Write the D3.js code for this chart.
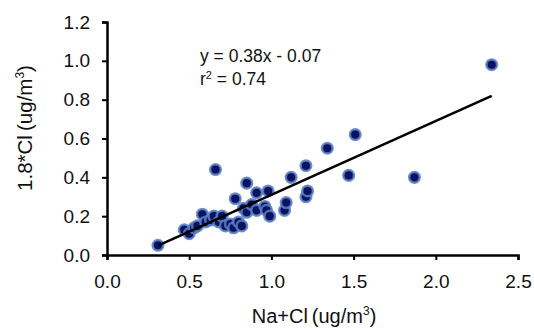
<!DOCTYPE html>
<html>
<head>
<meta charset="utf-8">
<script src="https://cdn.jsdelivr.net/npm/d3@7"></script>
<style>
  body { margin: 0; background: #fff; }
  svg { display: block; font-family: "Liberation Sans", Arial, sans-serif; }
  .axis path, .axis line { stroke: #000; }
  .axis text { fill: #111; font-size: 19px; }
</style>
</head>
<body>
<svg width="534" height="329"></svg>
<script>
// Na+Cl (x) vs 1.8*Cl (y)
let naCl = [0.31, 0.47, 0.50, 0.53, 0.55, 0.58, 0.60, 0.63, 0.65, 0.66,
            0.68, 0.70, 0.72, 0.75, 0.77, 0.78, 0.80, 0.82, 0.83, 0.85,
            0.85, 0.88, 0.91, 0.91, 0.96, 0.97, 0.98, 0.99, 1.08, 1.09,
            1.12, 1.21, 1.22, 1.21, 1.34, 1.47, 1.51, 1.87, 2.34];
let cl18 = [0.05, 0.13, 0.11, 0.14, 0.15, 0.21, 0.17, 0.18, 0.20, 0.44,
            0.17, 0.20, 0.15, 0.16, 0.14, 0.29, 0.17, 0.15, 0.24, 0.22,
            0.37, 0.26, 0.32, 0.23, 0.25, 0.23, 0.33, 0.20, 0.23, 0.27,
            0.40, 0.30, 0.33, 0.46, 0.55, 0.41, 0.62, 0.40, 0.98];
let xTicks = [0, 0.5, 1.0, 1.5, 2.0, 2.5];
let yTicks = [0, 0.2, 0.4, 0.6, 0.8, 1.0, 1.2];
let slope = 0.38, intercept = -0.07, r2 = 0.74;

let svg = d3.select("svg");
let margin = { top: 22, right: 16, bottom: 74, left: 107 };
let width = 534 - margin.left - margin.right;
let height = 329 - margin.top - margin.bottom;

let x = d3.scaleLinear().domain([0, 2.5]).range([0, width]);
let y = d3.scaleLinear().domain([0, 1.2]).range([height, 0]);

let chart = svg.append("g").attr("transform", "translate(" + margin.left + "," + margin.top + ")");

// y-axis
let yAxis = chart.append("g")
  .attr("class", "axis")
  .call(d3.axisLeft(y).tickValues(yTicks).tickFormat(d3.format(".1f")).tickSize(5).tickPadding(12));
yAxis.select(".domain").attr("stroke-width", 2.5);
yAxis.selectAll(".tick line").attr("stroke-width", 2);

// x-axis
let xAxis = chart.append("g")
  .attr("class", "axis")
  .attr("transform", "translate(0," + height + ")")
  .call(d3.axisBottom(x).tickValues(xTicks).tickFormat(d3.format(".1f")).tickSize(5).tickPadding(15));
xAxis.select(".domain").attr("stroke-width", 2.5);
xAxis.selectAll(".tick line").attr("stroke-width", 2);

let data = naCl.map(function (d, i) { return { x: d, y: cl18[i] }; });

// dots
let dots = chart.append("g");
dots.selectAll(".glow")
  .data(data)
  .enter().append("circle")
  .attr("cx", function (d) { return x(d.x); })
  .attr("cy", function (d) { return y(d.y); })
  .attr("r", 8)
  .attr("fill", "#fff")
  .attr("opacity", 0.7);
dots.selectAll(".dot")
  .data(data)
  .enter().append("circle")
  .attr("cx", function (d) { return x(d.x); })
  .attr("cy", function (d) { return y(d.y); })
  .attr("r", 5.3)
  .attr("fill", "#0b1260")
  .attr("stroke", "#5a80c4")
  .attr("stroke-opacity", 0.85)
  .attr("stroke-width", 2.5);

// trend line
let xr = d3.extent(naCl);
chart.append("line")
  .attr("x1", x(xr[0]))
  .attr("y1", y(slope * xr[0] + intercept))
  .attr("x2", x(xr[1]))
  .attr("y2", y(slope * xr[1] + intercept))
  .attr("stroke", "#000")
  .attr("stroke-width", 2.5);

// equation
let eq = svg.append("text")
  .attr("x", 200)
  .attr("y", 62)
  .attr("font-size", 17.5)
  .attr("fill", "#111");
eq.text("y = " + slope + "x - " + Math.abs(intercept).toFixed(2));
let rt = svg.append("text")
  .attr("x", 200)
  .attr("y", 85)
  .attr("font-size", 17.5)
  .attr("fill", "#111");
rt.append("tspan").text("r");
rt.append("tspan").attr("font-size", 11).attr("dy", -6).text("2");
rt.append("tspan").attr("dy", 6).text(" = " + r2);

// axis titles
let xt = svg.append("text")
  .attr("x", 314)
  .attr("y", 323)
  .attr("text-anchor", "middle")
  .attr("font-size", 20)
  .attr("fill", "#111");
xt.append("tspan").text("Na+Cl\u2009(ug/m");
xt.append("tspan").attr("font-size", 12).attr("dy", -8).text("3");
xt.append("tspan").attr("dy", 8).text(")");

let yt = svg.append("text")
  .attr("transform", "translate(32,128) rotate(-90)")
  .attr("text-anchor", "middle")
  .attr("font-size", 20.5)
  .attr("fill", "#111");
yt.append("tspan").text("1.8*Cl\u2009(ug/m");
yt.append("tspan").attr("font-size", 12).attr("dy", -8).text("3");
yt.append("tspan").attr("dy", 8).text(")");
</script>
</body>
</html>
